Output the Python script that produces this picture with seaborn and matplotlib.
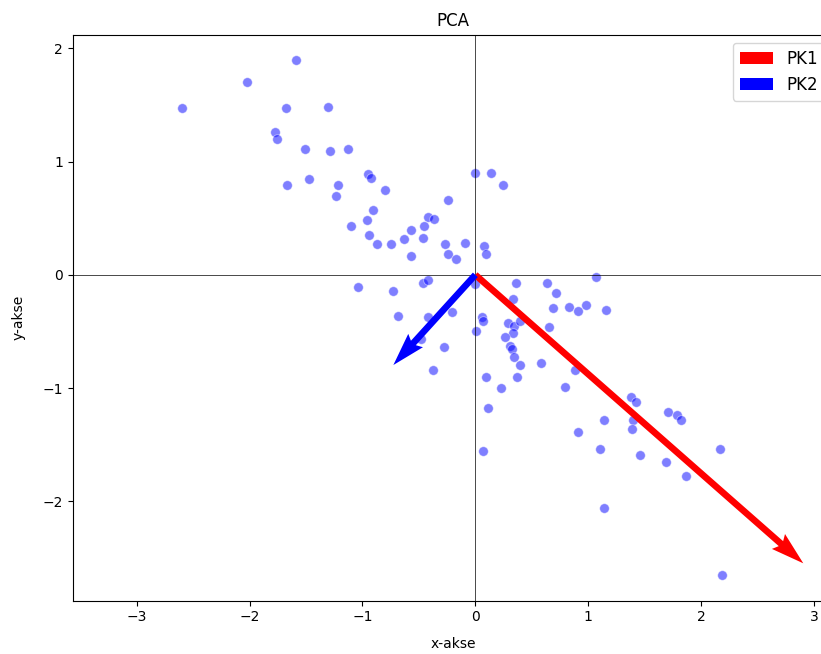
import numpy as np
import pandas as pd
import matplotlib
matplotlib.use("Agg")
import matplotlib.pyplot as plt
import seaborn as sb

# DATA
# -----------------------------

x_vals = [-2.598, -2.025, -1.591, -1.679, -1.307, -1.774, -1.754, -1.506, -1.287, -1.125,
          -1.668, -1.470, -1.219, -1.234, -0.948, -0.926, -0.797, -0.244, -0.909, -0.959,
          -1.104, -0.419, -0.363, -0.939, -0.871, -0.744, -0.632, -0.570, -0.454, -0.463,
          -0.567, -0.268, -0.244, -0.168, -0.094, -0.007, 0.143, 0.243, 0.081, 0.093,
          -1.036, -0.732, -0.466, -0.417, -0.007, -0.687, -0.416, -0.209, -0.484, -0.277,
          -0.372, 0.059, 0.066, 0.002, 0.092, 0.230, 0.114, 0.068, 0.363, 0.635,
          0.712, 1.069, 0.331, 0.691, 0.830, 0.907, 0.981, 1.156, 0.287, 0.343,
          0.393, 0.337, 0.263, 0.307, 0.322, 0.343, 0.396, 0.655, 0.579, 0.880,
          0.372, 0.797, 1.382, 1.419, 1.143, 1.401, 1.392, 0.907, 1.105, 1.457,
          1.709, 1.787, 1.819, 1.687, 1.869, 2.163, 1.140, 2.188]

y_vals = [1.470, 1.699, 1.893, 1.470, 1.484, 1.258, 1.201, 1.108, 1.093, 1.108,
          0.790, 0.848, 0.793, 0.693, 0.890, 0.857, 0.748, 0.660, 0.572, 0.486,
          0.433, 0.513, 0.490, 0.349, 0.272, 0.272, 0.316, 0.393, 0.431, 0.325,
          0.163, 0.272, 0.186, 0.142, 0.283, 0.898, 0.898, 0.793, 0.250, 0.184,
          -0.105, -0.139, -0.075, -0.050, -0.081, -0.364, -0.375, -0.326, -0.567, -0.635,
          -0.840, -0.370, -0.408, -0.493, -0.905, -1.002, -1.171, -1.555, -0.072, -0.072,
          -0.158, -0.017, -0.211, -0.290, -0.287, -0.317, -0.264, -0.312, -0.428, -0.452,
          -0.408, -0.511, -0.552, -0.628, -0.658, -0.723, -0.799, -0.463, -0.776, -0.842,
          -0.905, -0.992, -1.076, -1.123, -1.284, -1.279, -1.361, -1.385, -1.533, -1.586,
          -1.208, -1.237, -1.284, -1.648, -1.773, -1.535, -2.058, -2.647]

# principal components (scaled)
pk1 = [2.905, -2.546]
pk2 = [-0.726, -0.796]

# PLOT
# -----------------------------

def plot_pca():
    df = pd.DataFrame({"x": x_vals, "y": y_vals})

    fig = plt.figure(figsize=(8.21, 6.54), dpi=100)
    # axes runs a little past the right edge, like the cropped original
    ax = fig.add_axes([0.0886, 0.0815, 0.926, 0.8654])

    sb.scatterplot(data=df, x="x", y="y", color="blue", alpha=0.5, s=48,
                   edgecolor="white", linewidth=0.6, ax=ax)

    ax.axhline(0, color="black", linewidth=0.5)
    ax.axvline(0, color="black", linewidth=0.5)

    ax.quiver(0, 0, pk1[0], pk1[1], angles="xy", scale_units="xy", scale=1,
              color="red", label="PK1", width=0.0087, zorder=3)
    ax.quiver(0, 0, pk2[0], pk2[1], angles="xy", scale_units="xy", scale=1,
              color="blue", label="PK2", width=0.0087, zorder=3)

    ax.set_xlim(-3.566, 3.168)
    ax.set_ylim(-2.876, 2.119)
    ax.set_xticks([-3, -2, -1, 0, 1, 2, 3])
    ax.set_yticks([-2, -1, 0, 1, 2])

    ax.set_title("PCA")
    ax.set_xlabel("x-akse", labelpad=9)
    ax.set_ylabel("y-akse", labelpad=12)
    ax.legend(loc="upper right", fontsize=12)

    fig.savefig("out.png", dpi=100)

if __name__ == "__main__":
    plot_pca()
